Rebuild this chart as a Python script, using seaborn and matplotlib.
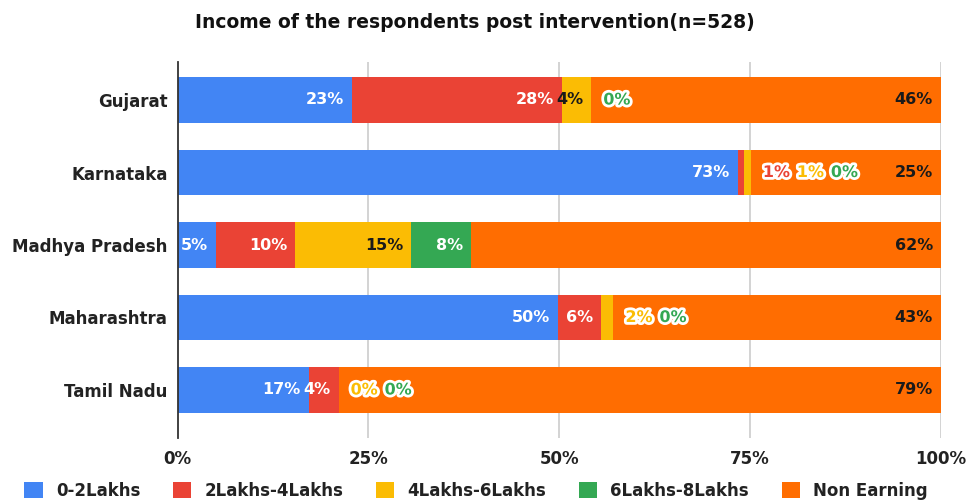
import matplotlib
matplotlib.use("Agg")
import matplotlib.pyplot as plt
import matplotlib.patheffects as pe
from matplotlib.patches import Patch
import numpy as np
import pandas as pd
import seaborn as sns

# Share of respondents (%) in each income band, per state
states = ["Gujarat", "Karnataka", "Madhya Pradesh", "Maharashtra", "Tamil Nadu"]
inc_0_2 = [22.8, 73.4, 5.0, 49.9, 17.2]
inc_2_4 = [27.6, 0.8, 10.4, 5.6, 3.9]
inc_4_6 = [3.8, 0.9, 15.2, 1.6, 0.0]
inc_6_8 = [0.0, 0.0, 7.9, 0.0, 0.0]
non_earning = [45.8, 24.9, 61.5, 42.9, 78.9]

series_names = ["0-2Lakhs", "2Lakhs-4Lakhs", "4Lakhs-6Lakhs", "6Lakhs-8Lakhs", "Non Earning"]
series_vals = [inc_0_2, inc_2_4, inc_4_6, inc_6_8, non_earning]
colors = ["#4285F4", "#EA4335", "#FBBC04", "#34A853", "#FF6D01"]
inside_text = ["white", "white", "#1a1a1a", "white", "#1a1a1a"]

title = "Income of the respondents post intervention(n=528)"
x_ticks = [0, 25, 50, 75, 100]
x_ticklabels = ["0%", "25%", "50%", "75%", "100%"]

sns.set_style("white")
plt.rcParams["font.family"] = ["DejaVu Sans"]
plt.rcParams["font.weight"] = "bold"

W, H = 968, 500
fig = plt.figure(figsize=(W / 100, H / 100), dpi=100)
ax = fig.add_axes([177.5 / W, 1 - 438 / H, (941 - 177.5) / W, (438 - 62) / H])

df = pd.DataFrame({"state": states})
vals = np.array(series_vals)
cum = np.cumsum(vals, axis=0)

# stacked bars: draw cumulative totals from the outermost band inwards
for k in range(len(series_vals) - 1, -1, -1):
    df["cum"] = cum[k]
    sns.barplot(data=df, x="cum", y="state", orient="h", color=colors[k],
                saturation=1, width=0.634, linewidth=0, ax=ax, zorder=2)

ax.set_xlim(0, 100)
ax.set_ylim(4 + 48 / 72.5, -38 / 72.5)
ax.set_xlabel("")
ax.set_ylabel("")
ax.set_xticks(x_ticks)
ax.set_xticklabels(x_ticklabels, fontsize=12, fontweight="bold", color="#222222")
ax.tick_params(axis="x", length=0, pad=9)
ax.tick_params(axis="y", length=0, pad=7, labelsize=12, labelcolor="#222222")
for lab in ax.get_yticklabels():
    lab.set_fontweight("bold")

for s in ["top", "right", "bottom"]:
    ax.spines[s].set_visible(False)
ax.spines["left"].set_color("#333333")
ax.spines["left"].set_linewidth(1.3)
ax.spines["left"].set_zorder(5)
for xv in x_ticks[1:]:
    ax.axvline(xv, color="#cccccc", linewidth=1.2, zorder=0)

# value labels: inside the segment when it is wide enough, otherwise
# chained to the right inside the last segment with a white halo
for i in range(len(states)):
    n_out = 0
    start_non = cum[-2][i]
    for k in range(len(series_vals)):
        v = series_vals[k][i]
        txt = f"{v:.0f}%"
        if v >= 3:
            ax.annotate(txt, xy=(cum[k][i], i), xytext=(-8, 0),
                        textcoords="offset pixels", ha="right", va="center",
                        fontsize=11.5, fontweight="bold", color=inside_text[k], zorder=6)
        else:
            ax.annotate(txt, xy=(start_non, i), xytext=(12 + 34 * n_out, 0),
                        textcoords="offset pixels", ha="left", va="center",
                        fontsize=11.5, fontweight="bold", color=colors[k], zorder=6,
                        path_effects=[pe.withStroke(linewidth=4, foreground="white")])
            n_out += 1

fig.text(475 / W, 1 - 22 / H, title, ha="center", va="center",
         fontsize=13.5, fontweight="bold", color="#111111")

handles = [Patch(facecolor=c, edgecolor="none") for c in colors]
fig.legend(handles, series_names, loc="center", bbox_to_anchor=(476 / W, 9 / H),
           ncol=5, frameon=False, prop={"size": 12, "weight": "bold"},
           labelcolor="#222222", handlelength=1.1, handleheight=1.1,
           handletextpad=0.8, columnspacing=1.95)

fig.savefig("out.png", dpi=100)
